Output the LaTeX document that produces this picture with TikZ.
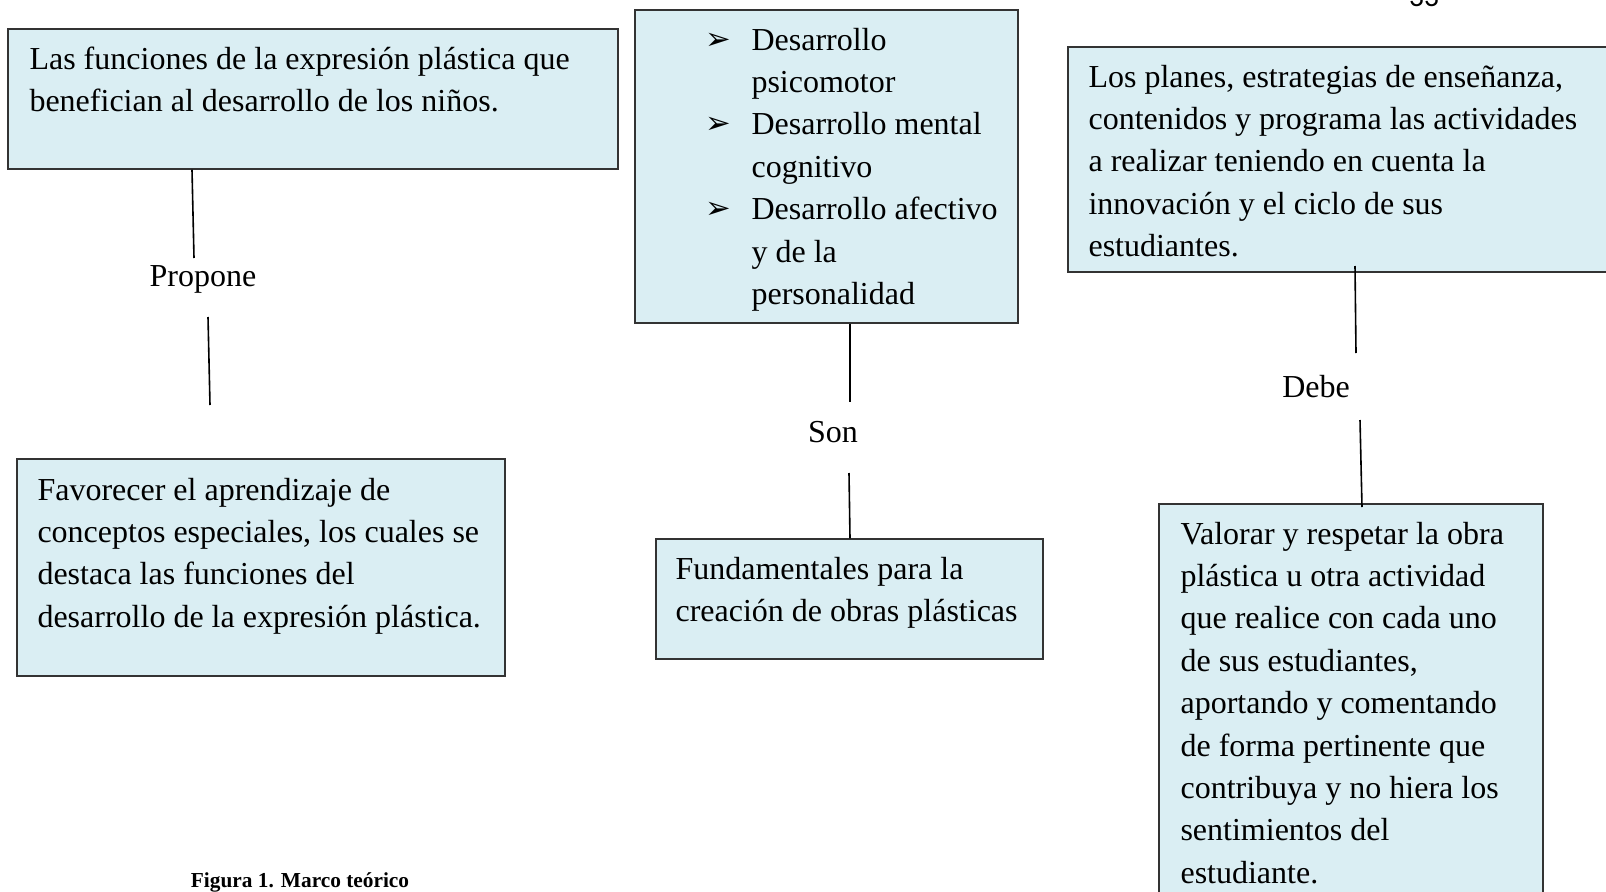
\documentclass[tikz,border=0pt]{standalone}
\usepackage{fontspec}
\setmainfont{Liberation Serif}
\newfontfamily\dejavu{DejaVu Sans}
\newfontfamily\carlito{Carlito}
\usetikzlibrary{fit}
\definecolor{boxfill}{HTML}{DAEEF3}
\definecolor{boxline}{HTML}{333333}
\tikzset{
  box/.style={draw=boxline, fill=boxfill, line width=0.55pt, inner sep=0pt},
  txt/.style={inner sep=0pt, font=\fontsize{12pt}{15.9pt}\selectfont},
  lbl/.style={inner sep=0pt, font=\fontsize{12pt}{15.9pt}\selectfont, anchor=base},
  conn/.style={draw=black, line width=0.6pt}
}
\newcommand{\arrbullet}{\leavevmode\llap{\makebox[17.25pt][l]{\raisebox{0.3pt}{\dejavu\fontsize{11.5pt}{12pt}\selectfont ➢}}}}
\begin{document}
\begin{tikzpicture}[x=0.375pt,y=-0.375pt]
\useasboundingbox (0,0) rectangle (1606,892);
% page number (cut off at the top)
\node[inner sep=0pt, anchor=base, font=\carlito\fontsize{11pt}{13pt}\selectfont] (pg) at (1424,7) {33};
% boxes
\node[box, fit={(8,29) (618,169)}] (b1) {};
\node[box, fit={(635,10) (1018,323)}] (b2) {};
\node[box, fit={(1068,47) (1625,272)}] (b3) {};
\node[box, fit={(17,459) (505,676)}] (b4) {};
\node[box, fit={(656,539) (1043,659)}] (b5) {};
\node[box, fit={(1159,504) (1543,920)}] (b6) {};
% texts
\node[txt, anchor=base west] (t1) at (29,69) {\parbox[t]{580pt}{Las funciones de la expresión plástica que\\benefician al desarrollo de los niños.}};
\node[txt, anchor=base west] (t2) at (751,50) {\parbox[t]{300pt}{\arrbullet Desarrollo\\psicomotor\\\arrbullet Desarrollo mental\\cognitivo\\\arrbullet Desarrollo afectivo\\y de la\\personalidad}};
\node[txt, anchor=base west] (t3) at (1088,87) {\parbox[t]{520pt}{Los planes, estrategias de enseñanza,\\contenidos y programa las actividades\\a realizar teniendo en cuenta la\\innovación y el ciclo de sus\\estudiantes.}};
\node[txt, anchor=base west] (t4) at (37,500) {\parbox[t]{470pt}{Favorecer el aprendizaje de\\conceptos especiales, los cuales se\\destaca las funciones del\\desarrollo de la expresión plástica.}};
\node[txt, anchor=base west] (t5) at (675,579) {\parbox[t]{380pt}{Fundamentales para la\\creación de obras plásticas}};
\node[txt, anchor=base west] (t6) at (1180,544) {\parbox[t]{360pt}{Valorar y respetar la obra\\plástica u otra actividad\\que realice con cada uno\\de sus estudiantes,\\aportando y comentando\\de forma pertinente que\\contribuya y no hiera los\\sentimientos del\\estudiante.}};
% labels
\node[lbl] (lp) at (203,286) {Propone};
\node[lbl] (ls) at (833,442) {Son};
\node[lbl] (ld) at (1316,397) {Debe};
% connector ends
\coordinate (pa) at (194,258);
\coordinate (pb) at (208,317);
\coordinate (pc) at (210,405);
\coordinate (sa) at (850,402);
\coordinate (sb) at (849,473);
\coordinate (da0) at (1355,266);
\coordinate (da) at (1356,353);
\coordinate (db) at (1360,420);
\coordinate (db1) at (1362,507);
% connectors
\draw[conn] ([xshift=-0.75pt]pa |- b1.south) -- (pa);
\draw[conn] (pb) -- (pc);
\draw[conn] (sa |- b2.south) -- (sa);
\draw[conn] (sb) -- ([xshift=0.375pt]sb |- b5.north);
\draw[conn] (da0) -- (da);
\draw[conn] (db) -- (db1);
% caption
\node[inner sep=0pt, anchor=base, font=\bfseries\fontsize{8pt}{9.6pt}\selectfont] (cap) at (300,887) {Figura 1. Marco teórico};
\end{tikzpicture}
\end{document}
